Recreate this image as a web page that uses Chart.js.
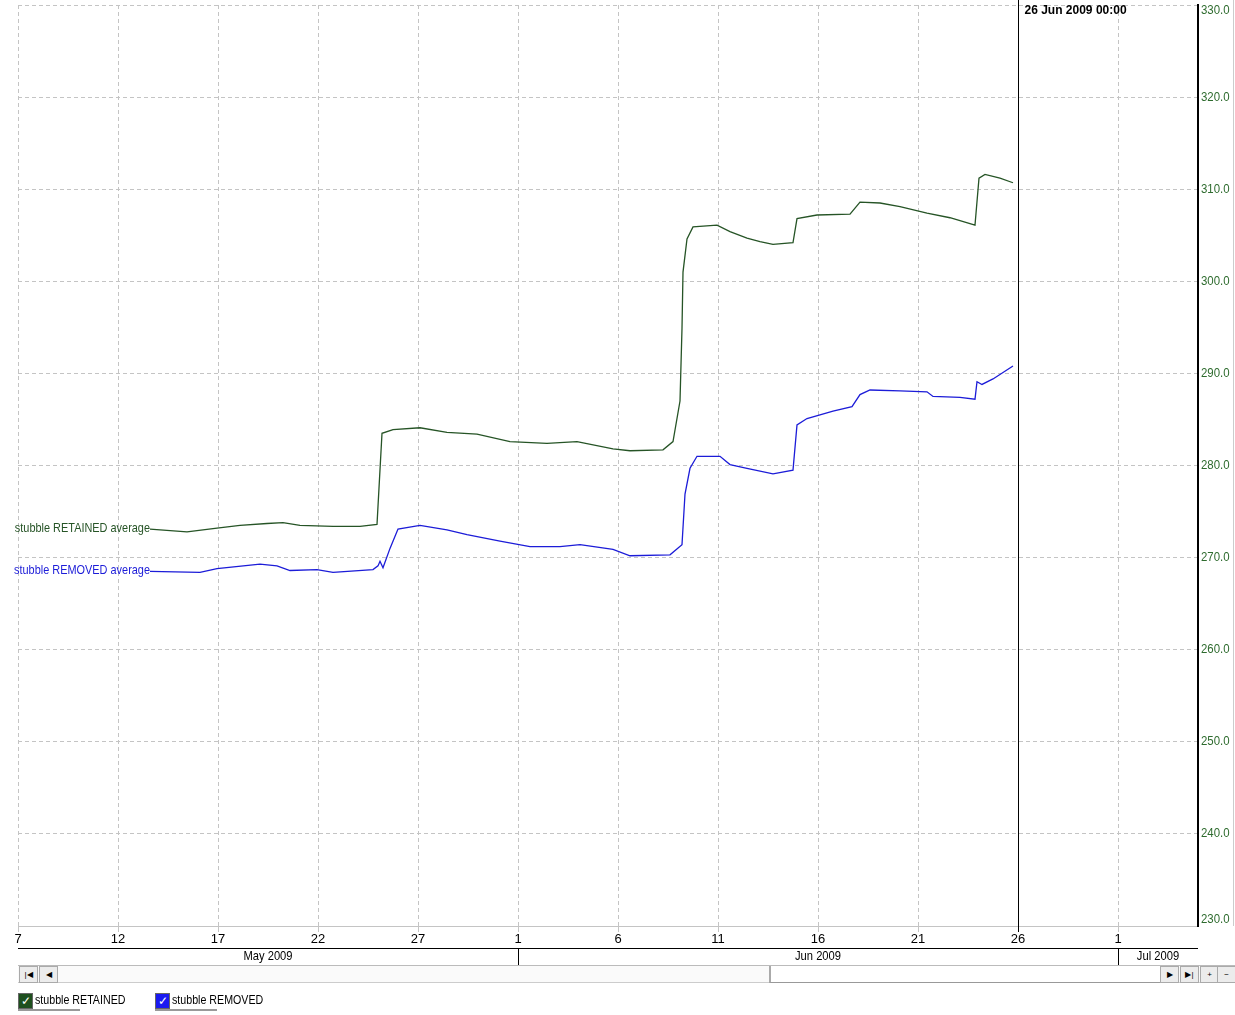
<!DOCTYPE html>
<html lang="en">
<head>
    <meta charset="UTF-8">
    <title>stubble RETAINED vs REMOVED</title>
    <script src="https://cdn.jsdelivr.net/npm/chart.js"></script>
    <style>
        body { margin: 0; background: #fff; font-family: 'Liberation Sans', Arial, sans-serif; }
        #wrap { position: relative; width: 1235px; height: 1015px; overflow: hidden; }
        canvas { position: absolute; left: 0; top: 0; }
        .scroll { position: absolute; top: 965px; left: 18px; width: 1217px; height: 18px; background: #fafafa;
                  border-top: 1px solid #bbb; border-bottom: 1px solid #ccc; box-sizing: border-box; }
        .btn { position: absolute; top: 0; width: 19px; height: 17px; background: #ececec; border: 1px solid #aaa; box-sizing: border-box;
               font-size: 8px; line-height: 15px; text-align: center; color: #000; }
        .thumb { position: absolute; top: 0; left: 751px; width: 391px; height: 17px; background: #fff; border-left: 2px solid #aaa;
                 border-bottom: 1px solid #999; box-sizing: border-box; }
        .legend { position: absolute; top: 992px; font-size: 13px; color: #000; white-space: nowrap; }
        .legend .txt { display: inline-block; transform: scaleX(0.82); transform-origin: left center; }
        .box { display: inline-block; width: 13px; height: 14px; color: #fff; font-size: 12px; line-height: 14px; text-align: center;
               vertical-align: middle; border: 1px solid #666; margin-right: 2px; }
        .under { position: absolute; top: 1009px; height: 2px; width: 62px; background: #999; }
        .edge { position: absolute; left: 1233px; top: 0; width: 1px; height: 926px; background: #ccc; }
    </style>
</head>
<body>
<div id="wrap">
    <canvas id="tempChart" width="1235" height="1015"></canvas>
    <div class="edge"></div>
    <div class="scroll">
        <div class="btn" style="left:1px">|&#9664;</div>
        <div class="btn" style="left:21px">&#9664;</div>
        <div class="thumb"></div>
        <div class="btn" style="left:1142px">&#9654;</div>
        <div class="btn" style="left:1162px">&#9654;|</div>
        <div class="btn" style="left:1182px">+</div>
        <div class="btn" style="left:1199px">&minus;</div>
    </div>
    <div class="legend" style="left:18px"><span class="box" style="background:#1e4f1e">&#10003;</span><span class="txt">stubble RETAINED</span></div>
    <div class="under" style="left:18px"></div>
    <div class="legend" style="left:155px"><span class="box" style="background:#1a1af0">&#10003;</span><span class="txt">stubble REMOVED</span></div>
    <div class="under" style="left:155px"></div>
</div>

<script>
    // x values are days since 7 May 2009 00:00
    const retainedDays = [6.6, 8.45, 9.95, 11.1, 12.45, 13.25, 14.1, 15.75, 17.1, 17.95, 18.2, 18.75, 20.1, 21.45, 22.95,
        24.6, 26.45, 27.95, 29.75, 30.6, 32.25, 32.75, 33.1, 33.2, 33.25, 33.45, 33.75, 34.95, 35.6, 36.45, 37.1, 37.75,
        38.75, 38.95, 39.95, 41.6, 42.1, 43.1, 44.1, 45.45, 46.6, 47.85, 48.05, 48.35, 49.1, 49.75];
    const retainedTemp = [273.1, 272.8, 273.2, 273.5, 273.7, 273.8, 273.5, 273.4, 273.4, 273.6, 283.5, 283.9, 284.1, 283.6, 283.4,
        282.6, 282.4, 282.6, 281.8, 281.6, 281.7, 282.6, 287.0, 294.9, 301.0, 304.6, 305.9, 306.1, 305.4, 304.7, 304.3, 304.0,
        304.2, 306.8, 307.2, 307.3, 308.6, 308.5, 308.1, 307.4, 306.9, 306.1, 311.2, 311.6, 311.2, 310.7];

    const removedDays = [6.6, 9.1, 9.95, 12.1, 12.95, 13.6, 14.95, 15.75, 17.75, 18.0, 18.1, 18.25, 18.6, 19.0, 20.1, 21.45,
        22.45, 24.1, 25.6, 27.1, 28.1, 29.75, 30.6, 32.6, 33.2, 33.35, 33.6, 33.95, 35.1, 35.6, 36.45, 37.75, 38.75, 38.95,
        39.45, 40.75, 41.7, 42.1, 42.6, 44.1, 45.45, 45.75, 47.1, 47.85, 47.95, 48.2, 48.75, 49.75];
    const removedTemp = [268.5, 268.4, 268.8, 269.3, 269.1, 268.6, 268.7, 268.4, 268.7, 269.1, 269.6, 268.9, 271.0, 273.1, 273.5, 273.0,
        272.5, 271.8, 271.2, 271.2, 271.4, 270.9, 270.2, 270.3, 271.4, 276.9, 279.7, 281.0, 281.0, 280.1, 279.7, 279.1, 279.5, 284.4,
        285.1, 285.9, 286.4, 287.7, 288.2, 288.1, 288.0, 287.5, 287.4, 287.2, 289.1, 288.8, 289.4, 290.8];

    const seriesNames = ['stubble RETAINED average', 'stubble REMOVED average'];
    const seriesColors = ['#265426', '#1c1cd8'];

    const dayTickLabels = ['7', '12', '17', '22', '27', '1', '6', '11', '16', '21', '26', '1'];
    const monthLabels = ['May 2009', 'Jun 2009', 'Jul 2009'];
    const monthStarts = [0, 25, 55];
    const markerDay = 50;
    const markerLabel = '26 Jun 2009 00:00';

    const fam = "'Liberation Sans', Arial, sans-serif";

    function toPoints(xs, ys) {
        return xs.map((x, i) => ({ x: x, y: ys[i] }));
    }

    // squeezed text, the original uses a narrow font
    function narrowText(ctx, text, x, y, sx) {
        ctx.save();
        ctx.translate(x, y);
        ctx.scale(sx, 1);
        ctx.fillText(text, 0, 0);
        ctx.restore();
    }

    const extras = {
        id: 'extras',
        afterDatasetsDraw(chart) {
            const ctx = chart.ctx;
            const xs = chart.scales.x;
            const ys = chart.scales.y;
            const area = chart.chartArea;
            ctx.save();

            // series names at the start of each line
            ctx.font = '13px ' + fam;
            ctx.textAlign = 'right';
            ctx.textBaseline = 'middle';
            chart.data.datasets.forEach((ds, i) => {
                const p = chart.getDatasetMeta(i).data[0];
                ctx.fillStyle = ds.borderColor;
                narrowText(ctx, seriesNames[i], p.x, p.y - 1, 0.84);
            });

            // y labels right of the axis, kept inside the canvas
            ctx.font = '13px ' + fam;
            ctx.textAlign = 'left';
            ctx.fillStyle = '#2e6b2e';
            ys.ticks.forEach(t => {
                const y = Math.min(Math.max(ys.getPixelForValue(t.value), 10), area.bottom - 7);
                narrowText(ctx, t.value.toFixed(1), area.right + 3, y, 0.88);
            });

            // current time marker
            const mx = Math.round(xs.getPixelForValue(markerDay)) + 0.5;
            ctx.strokeStyle = '#000';
            ctx.lineWidth = 1;
            ctx.beginPath();
            ctx.moveTo(mx, 0);
            ctx.lineTo(mx, area.bottom + 6);
            ctx.stroke();
            ctx.font = 'bold 12px ' + fam;
            ctx.textBaseline = 'top';
            ctx.fillStyle = '#000';
            narrowText(ctx, markerLabel, mx + 6, 5, 1.0);

            // month row
            const rowTop = area.bottom + 22;
            ctx.beginPath();
            ctx.moveTo(area.left, rowTop + 0.5);
            ctx.lineTo(area.right, rowTop + 0.5);
            ctx.stroke();
            ctx.font = '13px ' + fam;
            ctx.textAlign = 'center';
            ctx.textBaseline = 'middle';
            monthStarts.forEach((start, i) => {
                const a = Math.max(xs.getPixelForValue(start), area.left);
                const end = i + 1 < monthStarts.length ? monthStarts[i + 1] : xs.max;
                const b = xs.getPixelForValue(end);
                if (i > 0) {
                    ctx.beginPath();
                    ctx.moveTo(Math.round(a) + 0.5, rowTop);
                    ctx.lineTo(Math.round(a) + 0.5, rowTop + 17);
                    ctx.stroke();
                }
                narrowText(ctx, monthLabels[i], (a + b) / 2, rowTop + 8, 0.86);
            });
            ctx.restore();
        }
    };

    new Chart(document.getElementById('tempChart'), {
        type: 'scatter',
        data: {
            datasets: [
                { data: toPoints(retainedDays, retainedTemp), borderColor: seriesColors[0] },
                { data: toPoints(removedDays, removedTemp), borderColor: seriesColors[1] }
            ].map(d => Object.assign(d, { showLine: true, borderWidth: 1.3, pointRadius: 0, tension: 0, fill: false }))
        },
        options: {
            responsive: false,
            animation: false,
            layout: { padding: { left: 18, top: 5, right: 0, bottom: 0 } },
            plugins: { legend: { display: false }, tooltip: { enabled: false } },
            scales: {
                x: {
                    type: 'linear',
                    min: 0,
                    max: 59,
                    afterFit(s) { s.height = 89; },
                    afterBuildTicks(s) { s.ticks = dayTickLabels.map((_, i) => ({ value: i * 5 })); },
                    ticks: {
                        padding: 0,
                        color: '#000',
                        font: { family: fam, size: 13 },
                        maxRotation: 0,
                        autoSkip: false,
                        callback: (v) => dayTickLabels[Math.round(v / 5)]
                    },
                    grid: { color: '#c4c4c4', tickLength: 6, lineWidth: 1 },
                    border: { display: true, color: '#c4c4c4', dash: [4, 3] }
                },
                y: {
                    position: 'right',
                    min: 230,
                    max: 330,
                    afterFit(s) { s.width = 37; },
                    ticks: { stepSize: 10, display: false },
                    grid: { color: '#c4c4c4', drawTicks: false },
                    border: { display: true, color: '#000', width: 2, dash: [4, 3] }
                }
            }
        },
        plugins: [extras]
    });
</script>
</body>
</html>
